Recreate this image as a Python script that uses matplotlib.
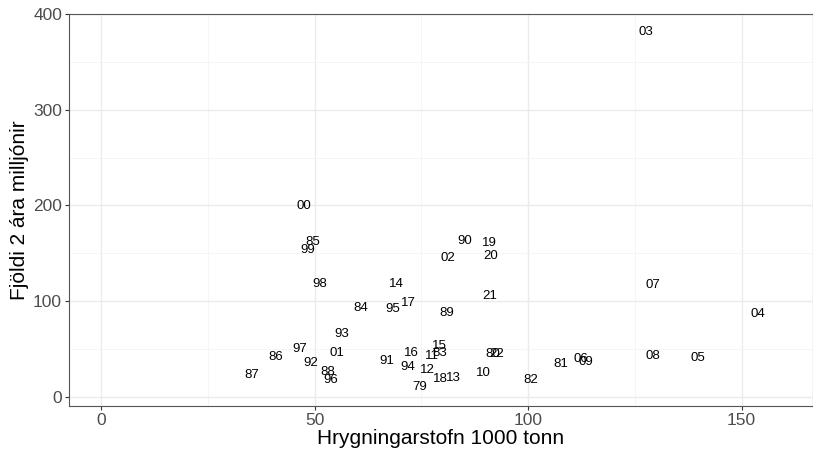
import matplotlib

matplotlib.use("Agg")
import matplotlib.pyplot as plt
from matplotlib.ticker import MultipleLocator

plt.rcParams["font.family"] = ["Liberation Sans", "DejaVu Sans"]

# year labels, spawning stock (1000 t) and 2-year-old recruits (millions)
years = ["79", "80", "81", "82", "83", "84", "85", "86", "87", "88", "89",
         "90", "91", "92", "93", "94", "95", "96", "97", "98", "99",
         "00", "01", "02", "03", "04", "05", "06", "07", "08", "09",
         "10", "11", "12", "13", "14", "15", "16", "17", "18", "19",
         "20", "21", "22"]
ssb = [74.5, 91.6, 107.7, 100.5, 79.2, 60.7, 49.6, 41.0, 35.4, 53.2, 81.0,
       85.2, 67.0, 49.2, 56.4, 71.9, 68.4, 53.7, 46.6, 51.1, 48.5,
       47.5, 55.3, 81.3, 127.6, 153.9, 139.8, 112.4, 129.3, 129.3, 113.6,
       89.5, 77.5, 76.3, 82.4, 69.1, 79.2, 72.6, 71.9, 79.4, 90.9,
       91.3, 91.1, 92.7]
recruits = [10.4, 44.8, 34.4, 17.7, 45.9, 92.8, 161.6, 41.7, 22.9, 26.0, 87.6,
            162.7, 37.5, 35.5, 65.7, 31.3, 91.8, 17.7, 50.0, 117.8, 153.3,
            199.0, 45.9, 145.0, 381.6, 86.5, 40.7, 39.6, 116.8, 42.8, 36.5,
            25.0, 42.8, 28.2, 19.8, 117.8, 53.2, 45.9, 98.0, 18.8, 160.6,
            147.0, 105.3, 44.8]

fig = plt.figure(figsize=(8.13, 4.5), dpi=100)
ax = fig.add_axes([69 / 813, 44 / 450, 744 / 813, 392 / 450])

for lab, x, y in zip(years, ssb, recruits):
    ax.text(x, y, lab, ha="center", va="center", fontsize=9.5, color="black")

ax.set_xlim(-7.5, 166.7)
ax.set_ylim(-9.4, 400)
ax.xaxis.set_major_locator(MultipleLocator(50))
ax.xaxis.set_minor_locator(MultipleLocator(25))
ax.yaxis.set_major_locator(MultipleLocator(100))
ax.yaxis.set_minor_locator(MultipleLocator(50))
ax.grid(which="major", color="#ebebeb", linewidth=1.0)
ax.grid(which="minor", color="#f4f4f4", linewidth=0.6)
ax.set_axisbelow(True)
ax.tick_params(which="major", length=3, pad=2, color="#333333", labelsize=12.5,
               labelcolor="#4d4d4d")
ax.tick_params(which="minor", length=0)
for s in ax.spines.values():
    s.set_color("#555555")
    s.set_linewidth(0.8)

ax.set_xlabel("Hrygningarstofn 1000 tonn", fontsize=15, labelpad=1)
ax.set_ylabel("Fjöldi 2 ára milljónir", fontsize=15, labelpad=3)

fig.savefig("out.png", dpi=100)
